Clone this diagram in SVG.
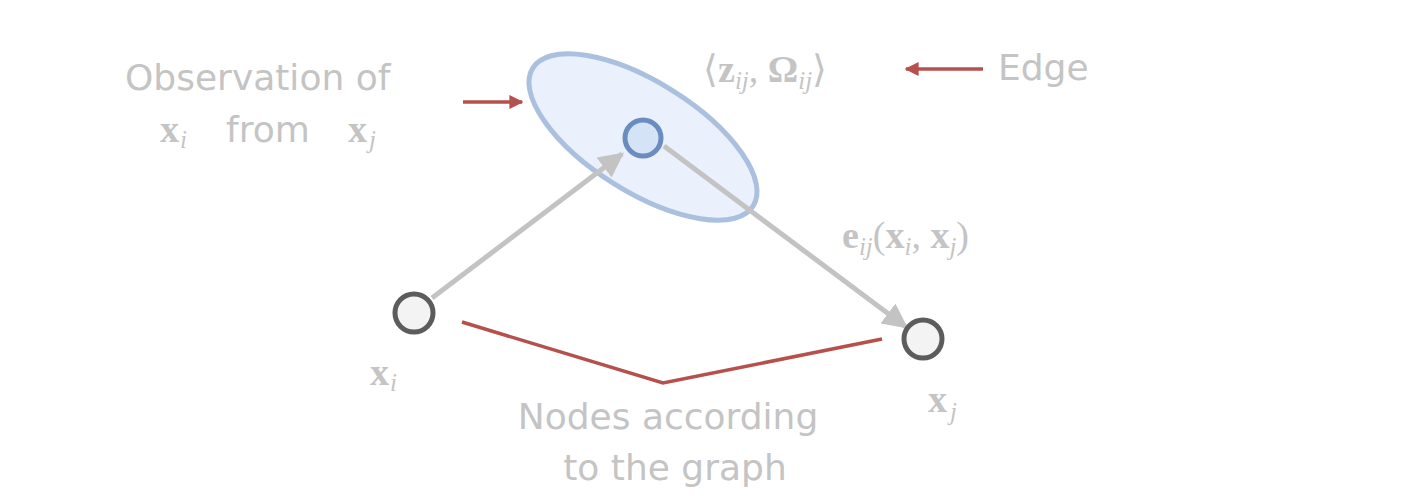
<svg xmlns="http://www.w3.org/2000/svg" width="1402" height="500" viewBox="0 0 1402 500">
<style>
.t{font-family:"DejaVu Sans",sans-serif;font-size:36px;fill:#c4c4c4}
.m{font-family:"Liberation Serif",serif;font-size:38px;fill:#c4c4c4}
.b{font-weight:bold}
.s{font-style:italic;font-size:25px}
.red{stroke:#b5504c;stroke-width:3.5;fill:none}
.gr{stroke:#c3c3c3;stroke-width:5;fill:none}
.node{fill:#f3f3f3;stroke:#5c5c5c;stroke-width:5}
</style>
<defs>
<marker id="ra" viewBox="0 0 10 10" refX="9" refY="5" markerWidth="4" markerHeight="4" orient="auto"><path d="M0,0L10,5L0,10z" fill="#b5504c"/></marker>
<marker id="ga" viewBox="0 0 10 10" refX="9" refY="5" markerWidth="5" markerHeight="5" orient="auto"><path d="M0,0L10,5L0,10z" fill="#c3c3c3"/></marker>
</defs>
<g id="ellipse"><ellipse cx="643" cy="137" rx="130" ry="55" transform="rotate(32 643 137)" fill="#eaf1fc" stroke="#aac0de" stroke-width="5"/></g>
<g id="connectors">
<line class="gr" x1="432" y1="298" x2="622" y2="154" marker-end="url(#ga)"/>
<line class="gr" x1="664" y1="146" x2="906" y2="327" marker-end="url(#ga)"/>
<line class="red" x1="463" y1="102" x2="522" y2="102" marker-end="url(#ra)"/>
<line class="red" x1="983" y1="69" x2="906" y2="69" marker-end="url(#ra)"/>
<polyline class="red" points="462,322 663,383 882,339"/>
</g>
<g id="xi"><circle class="node" cx="414" cy="313" r="19"/><text class="m b" x="370" y="385">x</text><text class="m s" x="390" y="391">i</text></g>
<g id="obs"><circle cx="643" cy="138" r="18" fill="#d5e3f7" stroke="#6b8cbf" stroke-width="5"/></g>
<g id="xj"><circle class="node" cx="923" cy="339" r="19"/><text class="m b" x="928" y="412">x</text><text class="m s" x="950" y="420">j</text></g>
<g id="labels">
<text class="t" x="125" y="90">Observation of</text>
<text class="m b" x="160" y="142">x</text><text class="m s" x="180" y="148">i</text>
<text class="t" x="226" y="142">from</text>
<text class="m b" x="348" y="142">x</text><text class="m s" x="369" y="148">j</text>
<text class="m" x="703" y="82">⟨<tspan class="b">z</tspan><tspan class="s" dy="7">ij</tspan><tspan dy="-7">, </tspan><tspan class="b">Ω</tspan><tspan class="s" dy="7">ij</tspan><tspan dy="-7">⟩</tspan></text>
<text class="t" x="998" y="80">Edge</text>
<text class="m" x="842" y="248"><tspan class="b">e</tspan><tspan class="s" dy="7">ij</tspan><tspan dy="-7">(</tspan><tspan class="b">x</tspan><tspan class="s" dy="7">i</tspan><tspan dy="-7">, </tspan><tspan class="b">x</tspan><tspan class="s" dy="7">j</tspan><tspan dy="-7">)</tspan></text>
<text class="t" x="668" y="429" text-anchor="middle">Nodes according</text>
<text class="t" x="675" y="480" text-anchor="middle">to the graph</text>
</g>
</svg>
